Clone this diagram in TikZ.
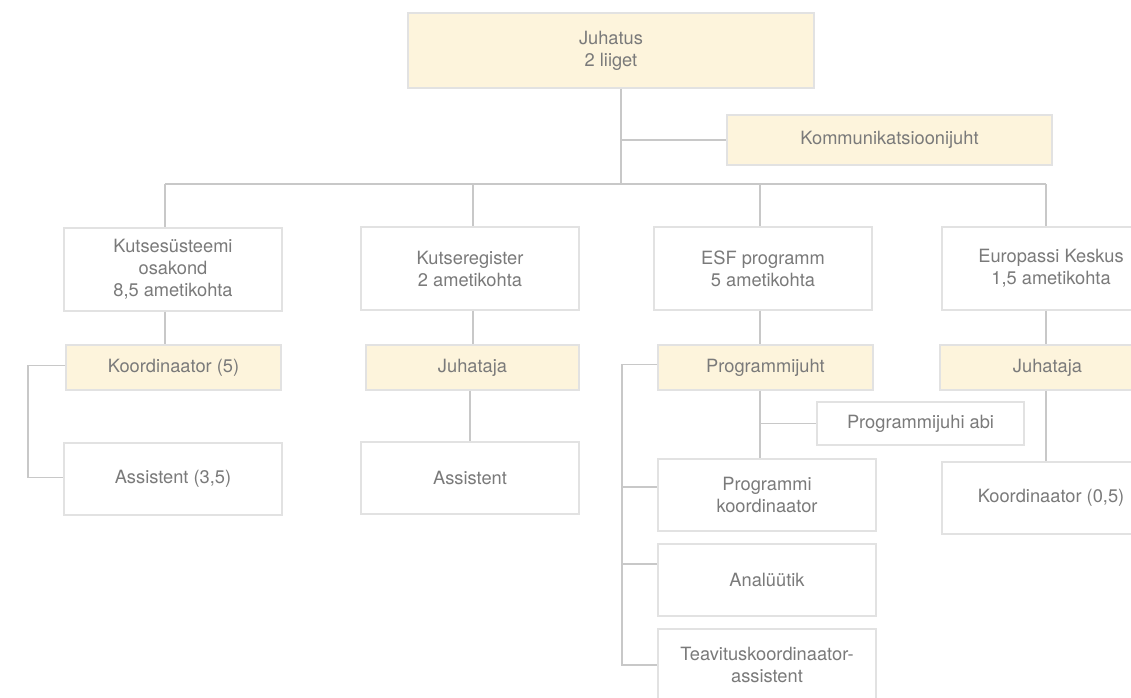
\documentclass[tikz,border=0pt]{standalone}
\usepackage{fontspec}
\setmainfont{TeX Gyre Heros}
\definecolor{txt}{HTML}{7A7A7A}
\definecolor{boxline}{HTML}{E2E2E2}
\definecolor{wire}{HTML}{C8C8C8}
\definecolor{hilite}{HTML}{FDF4DC}
\tikzset{
  box/.style={draw=boxline, fill=white, line width=0.9pt, inner sep=0pt,
    minimum width=163.5pt, align=center, text=txt,
    font=\fontsize{13.7}{16.5}\selectfont},
  unit/.style={box, minimum height=62.25pt},
  job/.style={box, minimum height=54pt},
  lead/.style={box, fill=hilite, minimum width=161.25pt, minimum height=33.75pt},
  wire/.style={draw=wire, line width=0.8pt}
}
\begin{document}
\begin{tikzpicture}[x=0.75pt,y=-0.75pt]
\useasboundingbox (0,0) rectangle (1131,697);
\clip (0,0) rectangle (1131,697);

\node[box, fill=hilite, minimum width=304.5pt, minimum height=56.25pt] (board) at (611,50.5) {Juhatus\\2 liiget};
\node[box, fill=hilite, minimum width=243.75pt, minimum height=37.5pt] (comm) at (889.5,140) {Kommunikatsioonijuht};

\node[unit] (kss) at (173,269.5) {Kutsesüsteemi\\osakond\\8,5 ametikohta};
\node[unit] (kreg) at (470,268.5) {Kutseregister\\2 ametikohta};
\node[unit] (esf) at (763,268.5) {ESF programm\\5 ametikohta};
\node[unit] (epk) at (1051,268.5) {Europassi Keskus\\1,5 ametikohta};

\node[lead] (kssco) at (173.5,367.5) {Koordinaator (5)};
\node[lead, minimum width=159.75pt] (kreghd) at (472.5,367.5) {Juhataja};
\node[lead] (esfhd) at (765.5,367.5) {Programmijuht};
\node[lead] (epkhd) at (1047.5,367.5) {Juhataja};

\node[job] (kssas) at (173,479) {Assistent (3,5)};
\node[job] (kregas) at (470,478) {Assistent};
\node[box, minimum width=155.25pt, minimum height=32.25pt] (esfab) at (920.5,423.5) {Programmijuhi abi};
\node[job] (esfco) at (767,495) {Programmi\\koordinaator};
\node[job] (esfan) at (767,580) {Analüütik};
\node[job] (esfte) at (767,665) {Teavituskoordinaator-\\assistent};
\node[job] (epkco) at (1051,498) {Koordinaator (0,5)};

\coordinate (top) at (621,184);
\coordinate (c1) at (165,184);
\coordinate (c2) at (473,184);
\coordinate (c3) at (760,184);
\coordinate (c4) at (1046,184);
\coordinate (l1) at (28,0);
\coordinate (l3) at (622,0);

\draw[wire] (board.south -| top) -- (top);
\draw[wire] (top |- comm.west) -- (comm.west);
\draw[wire] (c1) -- (c4);
\draw[wire] (c1) -- (c1 |- kss.north);
\draw[wire] (c2) -- (c2 |- kreg.north);
\draw[wire] (c3) -- (c3 |- esf.north);
\draw[wire] (c4) -- (c4 |- epk.north);

\draw[wire] (kss.south -| c1) -- (kssco.north -| c1);
\draw[wire] ([yshift=1.2pt]kssco.west) -- ([yshift=1.2pt]kssco.west -| l1) -- ([yshift=0.8pt]kssas.west -| l1) -- ([yshift=0.8pt]kssas.west);

\draw[wire] (kreg.south -| c2) -- (kreghd.north -| c2);
\draw[wire] (kreghd.south -| kregas.north) -- (kregas.north);

\draw[wire] (esf.south -| c3) -- (esfhd.north -| c3);
\draw[wire] (esfhd.south -| c3) -- (esfco.north -| c3);
\draw[wire] (esfab.west -| c3) -- (esfab.west);
\draw[wire] ([yshift=2.6pt]esfhd.west) -- ([yshift=2.6pt]esfhd.west -| l3) -- (esfte.west -| l3) -- (esfte.west);
\draw[wire] ([yshift=6pt]esfco.west -| l3) -- ([yshift=6pt]esfco.west);
\draw[wire] ([yshift=12pt]esfan.west -| l3) -- ([yshift=12pt]esfan.west);

\draw[wire] (epk.south -| c4) -- (epkhd.north -| c4);
\draw[wire] (epkhd.south -| c4) -- (epkco.north -| c4);
\end{tikzpicture}
\end{document}
